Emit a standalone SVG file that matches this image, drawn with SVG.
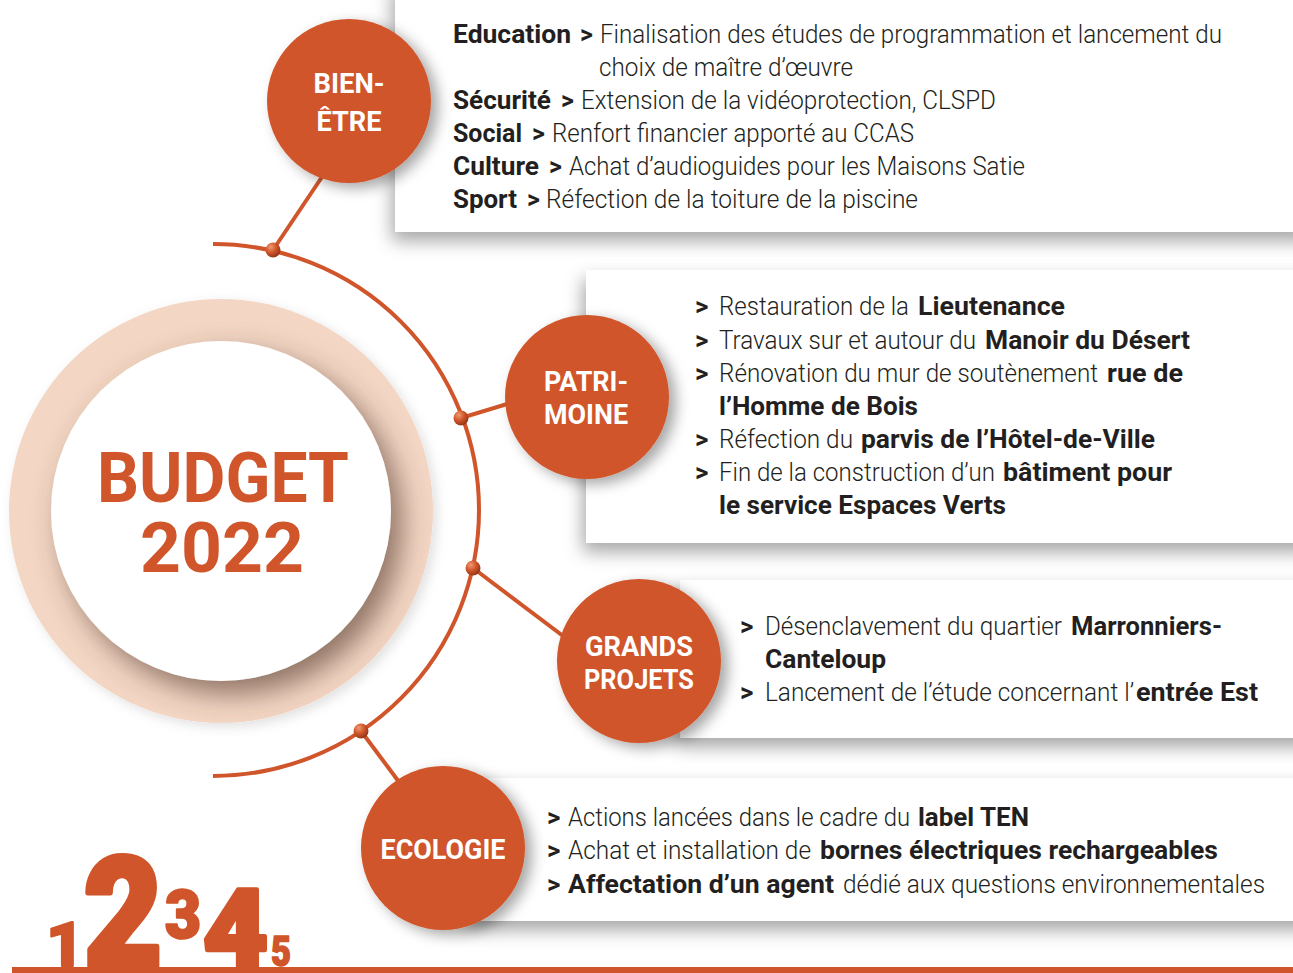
<svg xmlns="http://www.w3.org/2000/svg" width="1293" height="973" viewBox="0 0 1293 973">
<defs>
<style>
.lt{font-family:Roboto,"Liberation Sans",sans-serif;font-weight:300;font-size:26px;fill:#231f20}
.bd{font-family:Roboto,"Liberation Sans",sans-serif;font-weight:700;font-size:26px;fill:#231f20}
.p1{font-size:25px}
.lab{font-family:Roboto,"Liberation Sans",sans-serif;font-weight:700;font-size:28px;fill:#ffffff;text-anchor:middle}
.big{font-family:Roboto,"Liberation Sans",sans-serif;font-weight:700;font-size:70px;fill:#d0552a;text-anchor:middle}
.dig{font-family:Roboto,"Liberation Sans",sans-serif;font-weight:900;fill:#d0552a;stroke:#d0552a;stroke-linejoin:round}
.node{fill:#d0552a;filter:url(#cshadow)}
.panel{fill:#ffffff;filter:url(#pshadow)}
.conn{stroke:#d0552a;stroke-width:4;fill:none}
.dot{fill:url(#ball)}
</style>
<filter id="pshadow" x="-10%" y="-20%" width="120%" height="150%">
<feDropShadow dx="-3" dy="9" stdDeviation="9" flood-color="#000" flood-opacity="0.35"/>
</filter>
<filter id="cshadow" x="-30%" y="-30%" width="170%" height="170%">
<feDropShadow dx="7" dy="5" stdDeviation="7" flood-color="#000" flood-opacity="0.35"/>
</filter>
<filter id="ringshadow" x="-30%" y="-30%" width="170%" height="170%">
<feDropShadow dx="11" dy="13" stdDeviation="14" flood-color="#5a3d2f" flood-opacity="0.65"/>
</filter>
<filter id="outershadow" x="-30%" y="-30%" width="170%" height="170%">
<feDropShadow dx="4" dy="4" stdDeviation="6" flood-color="#000" flood-opacity="0.12"/>
</filter>
<clipPath id="ringclip"><circle cx="221" cy="511" r="212"/></clipPath>
<radialGradient id="ball" cx="0.35" cy="0.3" r="0.75">
<stop offset="0" stop-color="#f09a72"/>
<stop offset="0.5" stop-color="#d0552a"/>
<stop offset="1" stop-color="#8f3416"/>
</radialGradient>
</defs>

<g id="panels">
<rect id="panel-bienetre" class="panel" x="395" y="-20" width="920" height="252"/>
<rect id="panel-patrimoine" class="panel" x="586" y="270" width="730" height="273"/>
<rect id="panel-grandsprojets" class="panel" x="680" y="580" width="640" height="158"/>
<rect id="panel-ecologie" class="panel" x="470" y="778" width="850" height="143"/>
</g>

<g id="budget">
<circle cx="221" cy="511" r="212" fill="#f3d6c4" filter="url(#outershadow)"/>
<g clip-path="url(#ringclip)">
<circle cx="221" cy="511" r="170" fill="#ffffff" filter="url(#ringshadow)"/>
</g>
<text class="big" x="223" y="502" textLength="252" lengthAdjust="spacingAndGlyphs">BUDGET</text>
<text class="big" x="222" y="572" textLength="164" lengthAdjust="spacingAndGlyphs">2022</text>
</g>

<g id="connectors">
<path class="conn" d="M 213 244 A 266 266 0 0 1 213 776"/>
<line class="conn" x1="273" y1="250" x2="330" y2="165"/>
<line class="conn" x1="461" y1="418" x2="520" y2="400"/>
<line class="conn" x1="473" y1="568" x2="575" y2="645"/>
<line class="conn" x1="361" y1="731" x2="405" y2="790"/>
<circle class="dot" cx="273" cy="250" r="7.5"/>
<circle class="dot" cx="461" cy="418" r="7.5"/>
<circle class="dot" cx="473" cy="568" r="7.5"/>
<circle class="dot" cx="361" cy="731" r="7.5"/>
</g>

<g id="node-bienetre">
<circle class="node" cx="349" cy="101" r="82"/>
<text class="lab" x="349" y="93" textLength="71" lengthAdjust="spacingAndGlyphs">BIEN-</text>
<text class="lab" x="349" y="131" textLength="65" lengthAdjust="spacingAndGlyphs">ÊTRE</text>
</g>
<g id="node-patrimoine">
<circle class="node" cx="587" cy="397" r="82"/>
<text class="lab" x="586" y="391" textLength="84" lengthAdjust="spacingAndGlyphs">PATRI-</text>
<text class="lab" x="586" y="424" textLength="84" lengthAdjust="spacingAndGlyphs">MOINE</text>
</g>
<g id="node-grandsprojets">
<circle class="node" cx="639" cy="661" r="82"/>
<text class="lab" x="639" y="656" textLength="108" lengthAdjust="spacingAndGlyphs">GRANDS</text>
<text class="lab" x="639" y="689" textLength="110" lengthAdjust="spacingAndGlyphs">PROJETS</text>
</g>
<g id="node-ecologie">
<circle class="node" cx="443" cy="848" r="82"/>
<text class="lab" x="443" y="859" textLength="125" lengthAdjust="spacingAndGlyphs">ECOLOGIE</text>
</g>

<g id="text-bienetre">
<text class="bd p1" x="453" y="43" textLength="118" lengthAdjust="spacingAndGlyphs">Education</text>
<text class="bd p1" x="580" y="43">&gt;</text>
<text class="lt p1" x="600" y="43" textLength="622" lengthAdjust="spacingAndGlyphs">Finalisation des études de programmation et lancement du</text>
<text class="lt p1" x="599" y="76" textLength="254" lengthAdjust="spacingAndGlyphs">choix de maître d’œuvre</text>
<text class="bd p1" x="453" y="109" textLength="98" lengthAdjust="spacingAndGlyphs">Sécurité</text>
<text class="bd p1" x="561" y="109">&gt;</text>
<text class="lt p1" x="581" y="109" textLength="415" lengthAdjust="spacingAndGlyphs">Extension de la vidéoprotection, CLSPD</text>
<text class="bd p1" x="453" y="142" textLength="69" lengthAdjust="spacingAndGlyphs">Social</text>
<text class="bd p1" x="532" y="142">&gt;</text>
<text class="lt p1" x="552" y="142" textLength="362" lengthAdjust="spacingAndGlyphs">Renfort financier apporté au CCAS</text>
<text class="bd p1" x="453" y="175" textLength="86" lengthAdjust="spacingAndGlyphs">Culture</text>
<text class="bd p1" x="549" y="175">&gt;</text>
<text class="lt p1" x="569" y="175" textLength="456" lengthAdjust="spacingAndGlyphs">Achat d’audioguides pour les Maisons Satie</text>
<text class="bd p1" x="453" y="208" textLength="64" lengthAdjust="spacingAndGlyphs">Sport</text>
<text class="bd p1" x="527" y="208">&gt;</text>
<text class="lt p1" x="546" y="208" textLength="372" lengthAdjust="spacingAndGlyphs">Réfection de la toiture de la piscine</text>
</g>

<g id="text-patrimoine">
<text class="bd" x="695" y="315">&gt;</text>
<text class="lt" x="719" y="315" textLength="190" lengthAdjust="spacingAndGlyphs">Restauration de la</text>
<text class="bd" x="918" y="315" textLength="147" lengthAdjust="spacingAndGlyphs">Lieutenance</text>
<text class="bd" x="695" y="349">&gt;</text>
<text class="lt" x="719" y="349" textLength="257" lengthAdjust="spacingAndGlyphs">Travaux sur et autour du</text>
<text class="bd" x="985" y="349" textLength="205" lengthAdjust="spacingAndGlyphs">Manoir du Désert</text>
<text class="bd" x="695" y="382">&gt;</text>
<text class="lt" x="719" y="382" textLength="379" lengthAdjust="spacingAndGlyphs">Rénovation du mur de soutènement</text>
<text class="bd" x="1107" y="382" textLength="76" lengthAdjust="spacingAndGlyphs">rue de</text>
<text class="bd" x="719" y="415" textLength="199" lengthAdjust="spacingAndGlyphs">l’Homme de Bois</text>
<text class="bd" x="695" y="448">&gt;</text>
<text class="lt" x="719" y="448" textLength="134" lengthAdjust="spacingAndGlyphs">Réfection du</text>
<text class="bd" x="861" y="448" textLength="294" lengthAdjust="spacingAndGlyphs">parvis de l’Hôtel-de-Ville</text>
<text class="bd" x="695" y="481">&gt;</text>
<text class="lt" x="719" y="481" textLength="276" lengthAdjust="spacingAndGlyphs">Fin de la construction d’un</text>
<text class="bd" x="1003" y="481" textLength="169" lengthAdjust="spacingAndGlyphs">bâtiment pour</text>
<text class="bd" x="719" y="514" textLength="287" lengthAdjust="spacingAndGlyphs">le service Espaces Verts</text>
</g>

<g id="text-grandsprojets">
<text class="bd" x="740" y="635">&gt;</text>
<text class="lt" x="765" y="635" textLength="297" lengthAdjust="spacingAndGlyphs">Désenclavement du quartier</text>
<text class="bd" x="1071" y="635" textLength="151" lengthAdjust="spacingAndGlyphs">Marronniers-</text>
<text class="bd" x="765" y="668" textLength="121" lengthAdjust="spacingAndGlyphs">Canteloup</text>
<text class="bd" x="740" y="701">&gt;</text>
<text class="lt" x="765" y="701" textLength="369" lengthAdjust="spacingAndGlyphs">Lancement de l’étude concernant l’</text>
<text class="bd" x="1136" y="701" textLength="122" lengthAdjust="spacingAndGlyphs">entrée Est</text>
</g>

<g id="text-ecologie">
<text class="bd" x="547" y="826">&gt;</text>
<text class="lt" x="568" y="826" textLength="342" lengthAdjust="spacingAndGlyphs">Actions lancées dans le cadre du</text>
<text class="bd" x="918" y="826" textLength="111" lengthAdjust="spacingAndGlyphs">label TEN</text>
<text class="bd" x="547" y="859">&gt;</text>
<text class="lt" x="568" y="859" textLength="243" lengthAdjust="spacingAndGlyphs">Achat et installation de</text>
<text class="bd" x="820" y="859" textLength="398" lengthAdjust="spacingAndGlyphs">bornes électriques rechargeables</text>
<text class="bd" x="547" y="893">&gt;</text>
<text class="bd" x="568" y="893" textLength="266" lengthAdjust="spacingAndGlyphs">Affectation d’un agent</text>
<text class="lt" x="843" y="893" textLength="422" lengthAdjust="spacingAndGlyphs">dédié aux questions environnementales</text>
</g>

<g id="logo">
<rect x="12" y="967" width="1281" height="6" fill="#d0552a"/>
<text class="dig" x="46" y="966" font-size="62" stroke-width="2" textLength="38" lengthAdjust="spacingAndGlyphs">1</text>
<text class="dig" x="84" y="966" font-size="152" stroke-width="6" textLength="78" lengthAdjust="spacingAndGlyphs">2</text>
<text class="dig" x="165" y="938" font-size="66" stroke-width="2.5" textLength="36" lengthAdjust="spacingAndGlyphs">3</text>
<text class="dig" x="203" y="966" font-size="108" stroke-width="4.5" textLength="65" lengthAdjust="spacingAndGlyphs">4</text>
<text class="dig" x="271" y="966" font-size="42" stroke-width="1.5" textLength="20" lengthAdjust="spacingAndGlyphs">5</text>
</g>
</svg>
